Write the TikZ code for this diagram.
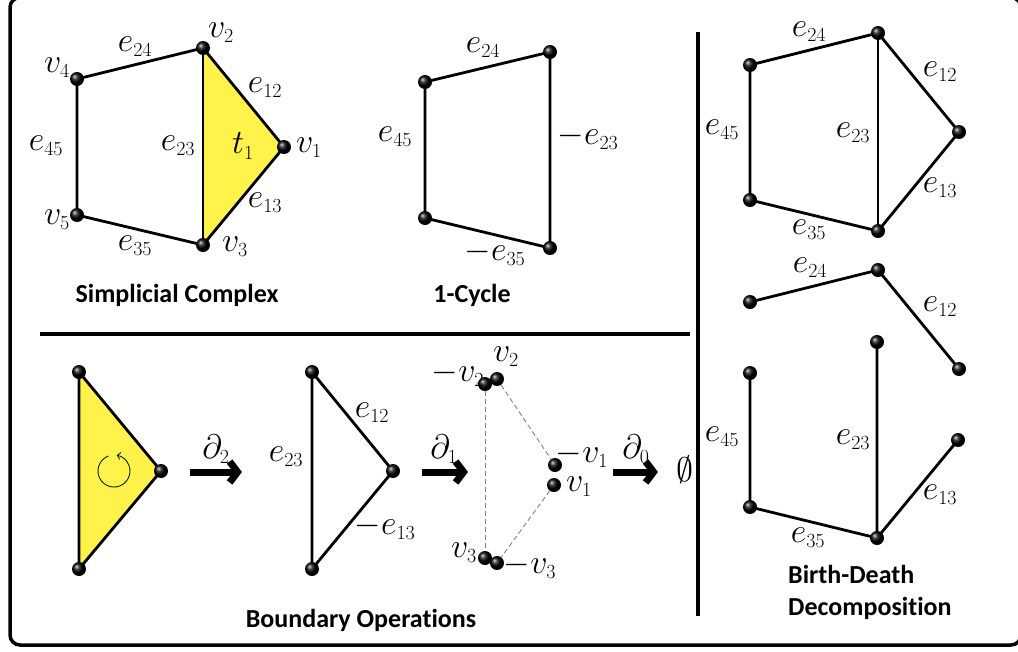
\documentclass[tikz,border=0pt]{standalone}
\usepackage{fix-cm}
\usepackage{fontspec}
\newfontfamily\titlefont[Ligatures=NoCommon]{Carlito}
\DeclareMathSizes{34}{34}{20}{14}
\usetikzlibrary{arrows.meta,backgrounds}
\definecolor{tyellow}{RGB}{255,242,75}
\begin{document}
\begin{tikzpicture}[x=1pt,y=-1pt,
  vtx/.style={circle,inner sep=0pt,minimum size=14pt,shading=ball,ball color=black},
  edge/.style={line width=2.8pt},
  lbl/.style={font=\fontsize{34}{38}\selectfont,inner sep=0pt},
  ttl/.style={font=\titlefont\bfseries\fontsize{26}{30}\selectfont,inner sep=0pt},
  bigarrow/.style={line width=7pt,-{Straight Barb[length=8pt,width=21pt]}},
  dashedge/.style={gray,line width=0.9pt,dash pattern=on 5pt off 3pt},
  divider/.style={line width=3.5pt}]
\useasboundingbox (0,0) rectangle (1018,651);
% frame and dividers
\draw[line width=3.5pt,rounded corners=10pt] (10,-2.5) rectangle (1021,645);
\coordinate (hd1) at (40,334); \coordinate (hd2) at (690,334);
\coordinate (vd1) at (698,32); \coordinate (vd2) at (698,616);
\draw[divider] (hd1) -- (hd2);
\draw[divider] (vd1) -- (vd2);

% ---------- Simplicial complex ----------
\node[vtx] (v1) at (284,147) {};
\node[vtx] (v2) at (203,48) {};
\node[vtx] (v3) at (203,245) {};
\node[vtx] (v4) at (77,79) {};
\node[vtx] (v5) at (77,215) {};
\node[lbl] (lv2) at (221,33) {$v_2$};
\node[lbl] (lv4) at (57,68) {$v_4$};
\node[lbl] (lv1) at (309,148) {$v_1$};
\node[lbl] (lv5) at (57,220) {$v_5$};
\node[lbl] (lv3) at (235,247) {$v_3$};
\node[lbl] (le24a) at (135,47) {$e_{24}$};
\node[lbl] (le12a) at (265,88) {$e_{12}$};
\node[lbl] (le45a) at (46,146) {$e_{45}$};
\node[lbl] (le23a) at (178,146) {$e_{23}$};
\node[lbl] (lt1) at (243,146) {$t_1$};
\node[lbl] (le13a) at (265,203) {$e_{13}$};
\node[lbl] (le35a) at (135,246) {$e_{35}$};
\node[ttl,anchor=base] (tsc) at (177,302) {Simplicial Complex};

% ---------- 1-cycle ----------
\node[vtx] (c4) at (425,82) {};
\node[vtx] (c2) at (550,52) {};
\node[vtx] (c5) at (425,218) {};
\node[vtx] (c3) at (550,248) {};
\node[lbl] (lc24) at (483,48) {$e_{24}$};
\node[lbl] (lc45) at (395,137) {$e_{45}$};
\node[lbl] (lc23) at (588,137) {$-e_{23}$};
\node[lbl] (lc35) at (495,253) {$-e_{35}$};
\node[ttl,anchor=base] (tcy) at (472,302) {1-Cycle};

% ---------- Birth-death top ----------
\node[vtx] (r4) at (750,65) {};
\node[vtx] (r2) at (878,33) {};
\node[vtx] (r1) at (959,132) {};
\node[vtx] (r5) at (750,200) {};
\node[vtx] (r3) at (878,231) {};
\node[lbl] (lr24) at (809,32) {$e_{24}$};
\node[lbl] (lr12) at (940,72) {$e_{12}$};
\node[lbl] (lr45) at (722,130) {$e_{45}$};
\node[lbl] (lr23) at (853,133) {$e_{23}$};
\node[lbl] (lr13) at (940,188) {$e_{13}$};
\node[lbl] (lr35) at (809,230) {$e_{35}$};

% ---------- Birth-death bottom ----------
\node[vtx] (s4) at (750,302) {};
\node[vtx] (s2) at (878,270) {};
\node[vtx] (s1) at (959,369) {};
\node[vtx] (s2b) at (877,342) {};
\node[vtx] (s4b) at (750,373) {};
\node[vtx] (s1b) at (958,440) {};
\node[vtx] (s5) at (750,507) {};
\node[vtx] (s3) at (877,538) {};
\node[lbl] (ls24) at (810,268) {$e_{24}$};
\node[lbl] (ls12) at (940,307) {$e_{12}$};
\node[lbl] (ls45) at (722,437) {$e_{45}$};
\node[lbl] (ls23) at (853,440) {$e_{23}$};
\node[lbl] (ls13) at (940,495) {$e_{13}$};
\node[lbl] (ls35) at (808,538) {$e_{35}$};
\node[ttl,anchor=base west] (tbd1) at (788,583) {Birth-Death};
\node[ttl,anchor=base west] (tbd2) at (788,615) {Decomposition};

% ---------- Boundary operations ----------
\node[vtx] (b2) at (79,372) {};
\node[vtx] (b3) at (79,569) {};
\node[vtx] (b1) at (161,471) {};
\coordinate (rot) at (114,471);
\draw[line width=0.9pt,black!85!green,-{Straight Barb[length=3pt,width=7pt]}]
  (rot) ++(-110:16) arc[start angle=-110,end angle=-440,radius=16];

\coordinate (a2s) at (190,472); \coordinate (a2e) at (242,472);
\draw[bigarrow] (a2s) -- (a2e);
\node[lbl] (ld2) at (216,449) {$\partial_2$};

\node[vtx] (d2) at (312,372) {};
\node[vtx] (d3) at (312,569) {};
\node[vtx] (d1) at (393,471) {};
\node[lbl] (ld12) at (372,413) {$e_{12}$};
\node[lbl] (ld23) at (286,457) {$e_{23}$};
\node[lbl] (ld13) at (385,527) {$-e_{13}$};

\coordinate (a1s) at (422,472); \coordinate (a1e) at (468,472);
\draw[bigarrow] (a1s) -- (a1e);
\node[lbl] (ld1) at (444,449) {$\partial_1$};

\node[vtx] (m2) at (485,384) {};
\node[vtx] (p2) at (497,379) {};
\node[vtx] (m1) at (555,465) {};
\node[vtx] (p1) at (554,485) {};
\node[vtx] (p3) at (485,558) {};
\node[vtx] (m3) at (497,563) {};
\node[lbl] (lm2) at (458,374) {$-v_2$};
\node[lbl] (lp2) at (506,357) {$v_2$};
\node[lbl] (lm1) at (582,455) {$-v_1$};
\node[lbl] (lp1) at (579,487) {$v_1$};
\node[lbl] (lp3) at (464,553) {$v_3$};
\node[lbl] (lm3) at (530,566) {$-v_3$};

\coordinate (a0s) at (613,472); \coordinate (a0e) at (658,472);
\draw[bigarrow] (a0s) -- (a0e);
\node[lbl] (ld0) at (636,449) {$\partial_0$};
\node[lbl] (lempty) at (685,470) {$\emptyset$};
\node[ttl,anchor=base] (tbo) at (361,627) {Boundary Operations};

% ---------- edges (behind the vertices) ----------
\begin{pgfonlayer}{background}
\fill[tyellow] (v1.center) -- (v2.center) -- (v3.center) -- cycle;
\draw[edge] (v4.center) -- (v2.center) -- (v1.center) -- (v3.center) -- (v5.center) -- (v4.center);
\draw[edge] (v2.center) -- (v3.center);
\draw[edge] (c4.center) -- (c2.center) -- (c3.center) -- (c5.center) -- (c4.center);
\draw[edge] (r4.center) -- (r2.center) -- (r1.center) -- (r3.center) -- (r5.center) -- (r4.center);
\draw[edge] (r2.center) -- (r3.center);
\draw[edge] (s4.center) -- (s2.center) -- (s1.center);
\draw[edge] (s2b.center) -- (s3.center) -- (s1b.center);
\draw[edge] (s4b.center) -- (s5.center) -- (s3.center);
\fill[tyellow] (b1.center) -- (b2.center) -- (b3.center) -- cycle;
\draw[edge] (b1.center) -- (b2.center) -- (b3.center) -- cycle;
\draw[edge] (d1.center) -- (d2.center) -- (d3.center) -- cycle;
\draw[dashedge] (m2) -- (p3);
\draw[dashedge] (p2) -- (m1);
\draw[dashedge] (p1) -- (m3);
\end{pgfonlayer}
\end{tikzpicture}
\end{document}
